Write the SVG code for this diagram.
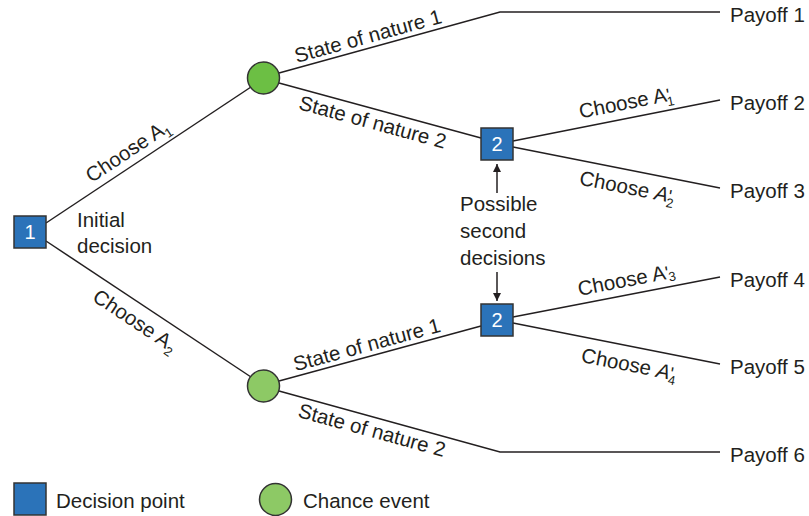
<svg xmlns="http://www.w3.org/2000/svg" width="809" height="516" viewBox="0 0 809 516">
<defs>
<style>
text{font-family:"Liberation Sans",Arial,sans-serif;font-size:20.5px;fill:#231f20}
.ln{fill:none;stroke:#231f20;stroke-width:1.5}
.box{fill:#2b73b9;stroke:#333;stroke-width:1.5}
.num{fill:#fff;text-anchor:middle;font-size:20px}
.c1{fill:#6cbf44;stroke:#333;stroke-width:1.5}
.c2{fill:#8dc965;stroke:#333;stroke-width:1.5}
.lbl{text-anchor:middle}
.sb{font-size:13px}
.pr{font-size:18px}
</style>
<marker id="ah" viewBox="0 0 10 10" refX="10" refY="5" markerWidth="8" markerHeight="12" markerUnits="userSpaceOnUse" orient="auto">
<path d="M0,0 L10,5 L0,10 Z" fill="#231f20"/>
</marker>
</defs>
<rect width="809" height="516" fill="#fff"/>
<g id="connectors">
<path class="ln" d="M46,223 L251,87"/>
<path class="ln" d="M46,241 L251,377"/>
<path class="ln" d="M279,73 L500,12 L720,12"/>
<path class="ln" d="M279,83 L481,138"/>
<path class="ln" d="M279,381 L481,326"/>
<path class="ln" d="M279,391 L500,452 L720,452"/>
<path class="ln" d="M513,141 L720,100"/>
<path class="ln" d="M513,147 L720,188"/>
<path class="ln" d="M513,317 L720,277"/>
<path class="ln" d="M513,323 L720,364"/>
<path class="ln" d="M497,193 L497,164" marker-end="url(#ah)"/>
<path class="ln" d="M497,272 L497,301" marker-end="url(#ah)"/>
</g>
<g id="edge-labels">
<text class="lbl" transform="translate(131.6,156.6) rotate(-33.6)">Choose A<tspan class="sb" dy="5">1</tspan></text>
<text class="lbl" transform="translate(131.4,326.5) rotate(33.6)">Choose A<tspan class="sb" dy="5">2</tspan></text>
<text class="lbl" transform="translate(369.9,42.8) rotate(-15.4)">State of nature 1</text>
<text class="lbl" transform="translate(370.9,128.8) rotate(15.2)">State of nature 2</text>
<text class="lbl" transform="translate(368.7,351.4) rotate(-15.2)">State of nature 1</text>
<text class="lbl" transform="translate(370.1,436.9) rotate(15.4)">State of nature 2</text>
<text class="lbl" transform="translate(627.3,109.3) rotate(-11.2)">Choose A<tspan class="pr">'</tspan><tspan class="sb" dx="-4" dy="5">1</tspan></text>
<text class="lbl" transform="translate(626,193.8) rotate(11.2)">Choose <tspan font-style="italic">A</tspan><tspan class="pr">'</tspan><tspan class="sb" dx="-4" dy="5">2</tspan></text>
<text class="lbl" transform="translate(627.7,286.6) rotate(-10.9)">Choose A<tspan class="pr">'</tspan><tspan class="sb" dx="-1" dy="3">3</tspan></text>
<text class="lbl" transform="translate(627.8,371.2) rotate(11.2)">Choose <tspan font-style="italic">A</tspan><tspan class="pr">'</tspan><tspan class="sb" dx="-4" dy="5">4</tspan></text>
</g>
<g id="decision1">
<rect class="box" x="14" y="216" width="32" height="32"/>
<text class="num" x="30" y="239">1</text>
</g>
<g id="initial-label">
<text x="77" y="227">Initial</text>
<text x="77" y="253">decision</text>
</g>
<g id="chance-top">
<circle class="c1" cx="263.5" cy="78" r="16"/>
</g>
<g id="chance-bottom">
<circle class="c2" cx="263.5" cy="386" r="16"/>
</g>
<g id="decision2-top">
<rect class="box" x="481" y="128" width="32" height="32"/>
<text class="num" x="497" y="151">2</text>
</g>
<g id="decision2-bottom">
<rect class="box" x="481" y="304" width="32" height="32"/>
<text class="num" x="497" y="327">2</text>
</g>
<g id="second-label">
<text x="460" y="211">Possible</text>
<text x="460" y="238">second</text>
<text x="460" y="265">decisions</text>
</g>
<g id="payoffs">
<text x="730" y="22">Payoff 1</text>
<text x="730" y="110">Payoff 2</text>
<text x="730" y="198">Payoff 3</text>
<text x="730" y="287">Payoff 4</text>
<text x="730" y="374">Payoff 5</text>
<text x="730" y="462">Payoff 6</text>
</g>
<g id="legend">
<rect class="box" x="14" y="483" width="32" height="32"/>
<text x="56" y="508">Decision point</text>
<circle class="c2" cx="275.5" cy="499.5" r="16"/>
<text x="303" y="508">Chance event</text>
</g>
</svg>
